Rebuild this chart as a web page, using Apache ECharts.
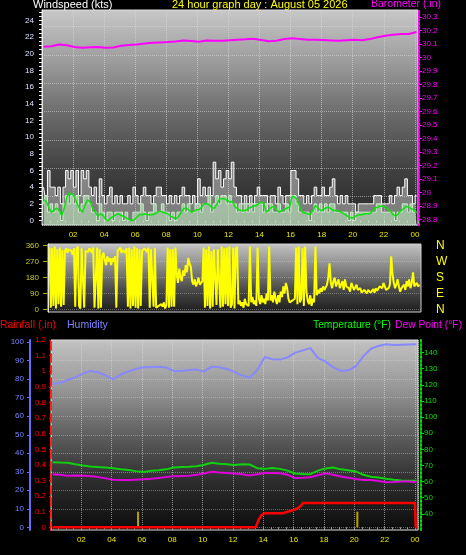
<!DOCTYPE html>
<html><head><meta charset="utf-8">
<script src="https://cdn.jsdelivr.net/npm/echarts@6/dist/echarts.min.js"></script>
<style>html,body{margin:0;padding:0;background:#000;}#c{width:466px;height:555px;}</style>
</head><body><div id="c"></div>
<script>
// ---- tick labels ----
const windTicks = [0,2,4,6,8,10,12,14,16,18,20,22,24];
const baroTicks = [28.8,28.9,29,29.1,29.2,29.3,29.4,29.5,29.6,29.7,29.8,29.9,30,30.1,30.2,30.3];
const dirTicks = [0,90,180,270,360];
const compassLabels = ['N','E','S','W','N'];
const rainTicks = [0,0.1,0.2,0.3,0.4,0.5,0.6,0.7,0.8,0.9,1,1.1,1.2];
const humTicks = [0,10,20,30,40,50,60,70,80,90,100];
const tempTicks = [40,50,60,70,80,90,100,110,120,130,140];

// ---- wind speed (10-minute samples from 00:06) ----
const windStart = 0.1, windStep = 1/6;
const gust = [
 4,3,6,4,4,3, 4,2,4,6,5,6, 4,6,3,6,5,6, 4,3,4,2,5,3, 2,3,4,2,3,2, 3,2,2,3,2,4,
 3,2,3,4,3,3, 2,3,4,4,3,3, 2,3,2,3,2,3, 4,3,3,2,3,2, 5,3,4,3,4,3, 7,5,6,4,5,6,
 5,7,4,3,3,2, 3,2,3,2,3,4, 3,3,3,2,3,3, 2,4,3,2,3,3, 6,6,5,3,3,2, 3,2,3,4,3,3,
 4,3,3,4,5,3, 2,3,2,3,2,2, 2,1,2,2,2,2, 2,2,3,3,3,2, 2,2,3,2,3,4, 3,4,5,3,3,2, 3];
const speed = [
 2,3,1,2,1,2, 1,0,2,3,2,3, 2,3,1,2,3,3, 2,1,1,0,2,1, 0,1,1,0,1,1, 1,0,1,0,0,1,
 1,1,2,1,0,1, 1,2,1,1,2,1, 1,0,1,0,1,1, 2,1,2,1,1,2, 2,1,2,2,3,1, 2,3,2,3,3,2,
 3,2,2,1,2,1, 2,1,2,1,2,2, 2,1,2,1,2,1, 1,2,1,1,2,1, 3,3,2,1,1,1, 1,0,1,2,1,2,
 1,2,1,2,2,1, 1,1,1,1,0,1, 0,1,1,1,1,1, 1,1,1,2,2,1, 1,1,1,1,0,1, 1,2,2,1,2,1, 1];
const avgSpeed = [
 2.5,2.3,1.6,1.0,1.2,1.5, 1.2,0.6,1.5,2.8,3.3,3.2, 2.8,2.0,1.4,1.0,1.8,2.5, 2.2,1.4,1.0,0.5,0.8,0.6,
 0.1,0.0,0.3,0.5,0.7,0.8, 0.6,0.5,0.3,0.1,0.0,0.1, 0.4,0.7,0.7,0.8,0.7,0.7, 0.7,0.8,1.0,1.1,1.0,0.9,
 0.8,0.5,0.4,0.2,0.4,0.9, 1.4,1.5,1.3,1.0,1.1,1.3, 1.3,1.6,2.0,2.0,1.9,1.5, 1.5,2.0,2.6,2.6,2.6,2.4,
 2.2,2.3,1.6,1.4,1.2,1.2, 1.2,1.4,1.6,1.7,1.8,2.0, 2.2,2.1,1.0,1.3,1.6,1.7, 1.3,1.0,1.2,1.3,1.5,1.6,
 2.9,2.8,2.5,1.6,1.0,0.9, 0.8,0.7,1.2,1.8,1.5,1.2, 1.3,1.5,1.6,1.4,1.2,1.2, 1.1,1.0,0.8,0.6,0.4,0.3,
 0.4,0.6,0.7,0.7,0.8,0.8, 0.8,1.1,1.5,1.6,1.7,1.7, 1.6,1.4,1.1,0.7,0.5,0.8, 1.2,1.4,1.7,1.6,1.4,1.3, 0.9];

// ---- wind direction (5-minute samples from 00:06) ----
const dirStart = 0.1, dirStep = 1/12;
const windDir = [
 350,10,345,20,355,5,340,30,350,15,335,25,
 330,345,320,340,350,330,310,345,15,340,355,20,
 5,345,350,10,330,340,325,345,335,320,350,10,
 20,350,5,340,10,300,320,280,250,300,270,290,
 250,290,270,300,10,330,340,350,320,335,345,320,
 345,15,350,5,340,20,355,10,345,5,340,20,
 330,320,345,340,325,350,10,340,350,15,345,10,
 5,20,10,30,15,40,5,25,350,10,340,15,
 340,15,350,200,150,230,180,160,220,190,250,210,
 290,260,240,160,140,170,130,150,180,140,130,160,
 350,10,340,20,355,5,330,15,340,350,25,340,
 350,10,355,15,345,30,350,20,355,10,30,350,
 5,340,355,30,50,20,40,10,60,30,40,20,
 355,40,70,30,50,20,350,60,30,80,40,60,
 30,90,50,355,50,80,40,100,60,30,80,40,
 100,70,130,90,150,120,60,40,30,50,40,60,
 350,30,355,40,60,345,20,355,100,50,30,80,
 20,60,40,355,80,110,90,120,100,130,110,120,
 140,180,260,150,120,160,180,130,150,170,120,140,
 160,110,170,130,140,120,100,150,130,110,120,140,
 110,100,120,95,105,110,100,90,110,100,95,105,
 115,95,120,105,110,130,140,120,150,130,110,120,
 120,140,300,200,150,120,140,170,130,100,120,110,
 140,110,160,130,170,120,150,210,130,120,150,130,
 140];

// ---- half-hourly samples from 00:06 ----
const halfStart = 0.1, halfStep = 0.5;
const barometer = [30.082,30.085,30.098,30.092,30.080,30.074,30.078,30.080,30.074,30.076,30.088,30.094,
 30.098,30.106,30.110,30.113,30.116,30.120,30.128,30.124,30.119,30.128,30.126,30.126,
 30.130,30.134,30.136,30.140,30.132,30.122,30.126,30.138,30.145,30.138,30.133,30.134,
 30.131,30.128,30.125,30.130,30.133,30.130,30.138,30.152,30.163,30.170,30.175,30.176,30.190];
const humidity = [77.5,78.0,79.6,81.0,83.0,84.5,83.8,82.0,80.0,82.5,84.2,85.5,
 86.5,86.5,86.8,86.3,84.5,84.4,85.0,85.2,84.2,86.8,86.5,85.5,
 84.0,82.0,80.8,85.0,92.0,90.8,90.6,91.8,94.4,95.6,96.8,91.5,
 89.5,86.5,84.5,84.8,86.9,92.5,96.5,98.0,98.9,98.5,98.7,98.8,98.9];
const temperature = [72.0,71.8,71.7,70.8,70.0,69.4,69.0,68.7,68.3,67.6,67.2,66.5,
 66.0,66.8,67.0,67.6,68.8,69.0,69.2,69.5,70.5,71.7,71.1,70.7,
 70.3,70.8,70.6,68.3,67.9,68.5,67.9,66.8,65.0,64.7,64.6,66.8,
 68.2,68.8,67.6,67.0,66.3,64.2,63.0,62.5,61.8,61.2,60.7,60.6,60.5];
const dewPoint = [64.5,64.2,63.7,63.8,63.7,63.5,62.8,62.0,61.2,61.0,61.0,61.2,
 61.4,61.8,62.3,62.8,63.4,63.5,63.6,64.2,65.0,66.1,65.7,65.4,
 65.1,64.5,63.8,64.6,65.4,65.4,65.2,64.2,62.2,62.4,62.7,64.0,
 65.1,64.2,63.2,62.4,61.6,61.0,61.0,60.4,59.6,59.8,60.1,60.0,59.6];

// ---- rain ----
const rainTimes = [0.1,13.5,13.7,13.9,14.1,15.3,15.6,16.0,16.3,16.5,16.6,24.0,24.05,24.18];
const rainTotal = [0,0,0.05,0.08,0.09,0.09,0.10,0.11,0.125,0.14,0.155,0.155,0,0];
const rateTimes = [5.74,20.2];
const rainRate = [0.1,0.1];

// ---- build ----
const zipStep = (start, step, arr) => arr.map((v,i) => [start + i*step, v]);
const zipXY = (xs, ys) => xs.map((x,i) => [x, ys[i]]);
const halfTicks = []; for (let v = 0; v <= 25; v += 0.5) halfTicks.push(v);
const pad = h => (h < 10 ? '0' : '') + h;
const fmtHour = v => {
  const r = Math.round(v);
  if (Math.abs(v - r) > 1e-6 || r <= 0 || r % 2) return '';
  return pad(r % 24);
};
const fmt1 = v => String(+v.toFixed(1));
const grad = (stops) => new echarts.graphic.LinearGradient(0,0,0,1, stops.map((c,i)=>({offset:i/(stops.length-1), color:c})));
const F = '"Liberation Sans", Arial, sans-serif';

function xAx(grid, shown, split) {
  return {type:'value', gridIndex:grid, min:0, max:24.2, interval:2,
    axisLine:{show:false},
    axisTick:{show:shown, length:3, lineStyle:{color:'#a0a0a0'}},
    minorTick:{show:shown, splitNumber:4, length:2, lineStyle:{color:'#a0a0a0'}},
    axisLabel:{show:shown, color:'#e8e800', fontSize:8, fontFamily:F, margin:6, formatter:fmtHour,
      showMinLabel:false, showMaxLabel:true},
    splitLine:{show:split, lineStyle:{color:'rgba(225,225,225,0.55)', type:'dotted', width:1}}};
}

const chart = echarts.init(document.getElementById('c'), null, {renderer:'canvas'});
chart.setOption({
  animation:false,
  backgroundColor:'#000',
  textStyle:{fontFamily:F},
  grid:[
    {left:42, top:10, width:376, height:215, show:true, borderColor:'#d8d8d8', borderWidth:1,
     backgroundColor:grad(['#c8c8c8','#9a9a9a','#686868','#404040','#262626'])},
    {left:48, top:244, width:373, height:68, show:true, borderColor:'#d0d0d0', borderWidth:1,
     backgroundColor:grad(['#c4c4c4','#8a8a8a','#4a4a4a','#1c1c1c'])},
    {left:51, top:340, width:367, height:190, show:true, borderColor:'#e0e0e0', borderWidth:1,
     backgroundColor:grad(['#c2c2c2','#989898','#5e5e5e','#2c2c2c','#0c0c0c'])}
  ],
  xAxis:[xAx(0,true,true), xAx(1,false,false), xAx(2,true,true)],
  yAxis:[
    {type:'value', gridIndex:0, position:'left', min:-0.54, max:25.26,
     axisLine:{show:true, lineStyle:{color:'#e8e8e8', width:1}},
     axisTick:{show:true, customValues:halfTicks, length:3, lineStyle:{color:'#f0f0f0'}},
     axisLabel:{customValues:windTicks, color:'#dde4ff', fontSize:8, margin:8},
     splitLine:{show:false}},
    {type:'value', gridIndex:0, position:'right', offset:1, min:28.758, max:30.354,
     axisLine:{show:true, lineStyle:{color:'#ff00ff', width:2, type:'dotted'}},
     axisTick:{show:true, customValues:baroTicks, length:3, lineStyle:{color:'#ff00ff'}},
     axisLabel:{customValues:baroTicks, color:'#ff00ff', fontSize:8, margin:3, formatter:fmt1},
     splitLine:{show:false}},
    {type:'value', gridIndex:0, position:'left', min:0, max:7.588, interval:1,
     axisLine:{show:false}, axisTick:{show:false}, axisLabel:{show:false},
     splitLine:{show:true, lineStyle:{color:'rgba(225,225,225,0.5)', type:'dotted'}}},
    {type:'value', gridIndex:1, position:'left', min:-14.6, max:369.6,
     axisLine:{show:true, lineStyle:{color:'#e8e8e8', width:1}},
     axisTick:{show:true, customValues:dirTicks, length:5, lineStyle:{color:'#a8a800'}},
     axisLabel:{customValues:dirTicks, color:'#c8c830', fontSize:8, margin:9},
     splitLine:{show:true, lineStyle:{color:'rgba(220,220,220,0.35)', type:'dotted'}}},
    {type:'value', gridIndex:1, position:'right', min:-14.6, max:369.6,
     axisLine:{show:false}, axisTick:{show:false},
     axisLabel:{customValues:dirTicks, color:'#ffff00', fontSize:12, margin:15,
       formatter:v => compassLabels[dirTicks.indexOf(v)]},
     splitLine:{show:false}},
    {type:'value', gridIndex:2, position:'left', offset:2, min:-0.0173, max:1.2006,
     axisLine:{show:true, lineStyle:{color:'#ff2020', width:2, type:'dashed'}},
     axisTick:{show:true, customValues:rainTicks, length:2, lineStyle:{color:'#ff0000'}},
     axisLabel:{customValues:rainTicks, color:'#ff0000', fontSize:8, margin:3, formatter:fmt1},
     splitLine:{show:false}},
    {type:'value', gridIndex:2, position:'left', offset:21, min:-1.46, max:101.2,
     axisLine:{show:true, lineStyle:{color:'#6a6aff', width:2}},
     axisTick:{show:true, customValues:humTicks, length:3, lineStyle:{color:'#6a6aff'}},
     axisLabel:{customValues:humTicks, color:'#7c84ff', fontSize:8, margin:6},
     splitLine:{show:true, lineStyle:{color:'rgba(220,220,220,0.4)', type:'dotted'}}},
    {type:'value', gridIndex:2, position:'right', offset:3, min:30, max:147.8,
     axisLine:{show:true, lineStyle:{color:'#00e000', width:2, type:'dotted'}},
     axisTick:{show:true, customValues:tempTicks, length:3, lineStyle:{color:'#00e000'}},
     axisLabel:{customValues:tempTicks, color:'#00e000', fontSize:8, margin:3},
     splitLine:{show:false}}
  ],
  series:[
    {type:'line', xAxisIndex:0, yAxisIndex:0, data:zipStep(windStart,windStep,gust), step:'middle',
     symbol:'none', lineStyle:{color:'#ffffff', width:1}, areaStyle:{color:'rgba(235,235,235,0.6)', origin:'start'}},
    {type:'line', xAxisIndex:0, yAxisIndex:0, data:zipStep(windStart,windStep,speed), step:'middle',
     symbol:'none', lineStyle:{color:'#c8f0c8', width:1}, areaStyle:{color:'rgba(195,238,195,0.8)', origin:'start'}},
    {type:'line', xAxisIndex:0, yAxisIndex:0, data:zipStep(windStart,windStep,avgSpeed),
     symbol:'none', lineStyle:{color:'#10e010', width:1.5}},
    {type:'line', xAxisIndex:0, yAxisIndex:1, data:zipStep(halfStart,halfStep,barometer),
     symbol:'none', lineStyle:{color:'#ff00ff', width:2}},
    {type:'line', xAxisIndex:1, yAxisIndex:3, data:zipStep(dirStart,dirStep,windDir),
     symbol:'none', lineStyle:{color:'#ffff00', width:2}},
    {type:'line', xAxisIndex:2, yAxisIndex:6, data:zipStep(halfStart,halfStep,humidity),
     symbol:'none', lineStyle:{color:'#8888ff', width:2}},
    {type:'line', xAxisIndex:2, yAxisIndex:7, data:zipStep(halfStart,halfStep,temperature),
     symbol:'none', lineStyle:{color:'#10d010', width:2}},
    {type:'line', xAxisIndex:2, yAxisIndex:7, data:zipStep(halfStart,halfStep,dewPoint),
     symbol:'none', lineStyle:{color:'#dd00dd', width:2}},
    {type:'bar', xAxisIndex:2, yAxisIndex:5, data:zipXY(rateTimes,rainRate), barWidth:2,
     itemStyle:{color:'#b8a000'}},
    {type:'line', xAxisIndex:2, yAxisIndex:5, data:zipXY(rainTimes,rainTotal),
     symbol:'none', lineStyle:{color:'#ff0000', width:2.5}, z:5}
  ],
  graphic:[
    {type:'text', left:33, top:-1, style:{text:'Windspeed (kts)', fill:'#ffffff', font:'11px '+F}},
    {type:'text', left:172, top:-1, style:{text:'24 hour graph day : August 05 2026', fill:'#ffff00', font:'11px '+F}},
    {type:'text', left:371, top:-1, style:{text:'Barometer (.in)', fill:'#ff00ff', font:'10.5px '+F}},
    {type:'text', left:0, top:320, style:{text:'Rainfall (.in)', fill:'#ff0000', font:'10.5px '+F}},
    {type:'text', left:67, top:320, style:{text:'Humidity', fill:'#8080ff', font:'10.5px '+F}},
    {type:'text', left:313, top:320, style:{text:'Temperature (°F)', fill:'#00ff00', font:'10.3px '+F}},
    {type:'text', left:395, top:320, style:{text:'Dew Point (°F)', fill:'#ff00ff', font:'10.3px '+F}}
  ]
});
</script></body></html>
